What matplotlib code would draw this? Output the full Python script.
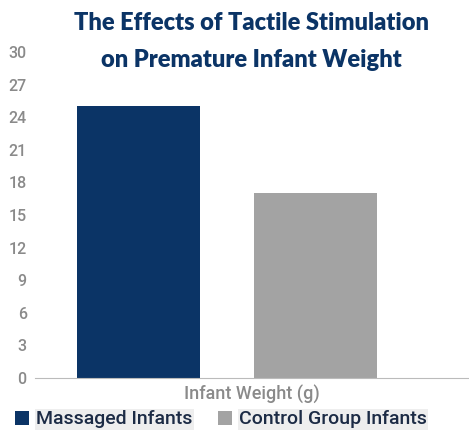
import matplotlib.pyplot as plt
import numpy as np

# Data
groups = ['Massaged Infants', 'Control Group Infants']
weights = [25, 17]
colors = ['#0b3466', '#a3a3a3']
yticks = list(range(0, 31, 3))

fig = plt.figure(figsize=(4.69, 4.33), dpi=100)
ax = fig.add_axes([35 / 469, 55 / 433, 1 - 35 / 469, (378 - 52) / 433])

x = np.arange(len(groups))
bars = ax.bar(x, weights, width=0.695, color=colors, label=groups)

ax.set_ylim(0, 30)
ax.set_xlim(-0.582, 1.87)
ax.set_yticks(yticks)
ax.set_xticks([])
for s in ['top', 'right', 'left']:
    ax.spines[s].set_visible(False)
ax.spines['bottom'].set_color('#bbbbbb')
ax.tick_params(axis='y', length=0, labelsize=11.5, labelcolor='#8a8a8a', pad=6)
for lbl in ax.get_yticklabels():
    lbl.set_fontfamily('Roboto')
    lbl.set_fontweight('medium')

ax.set_xlabel('Infant Weight (g)', fontsize=13, color='#8a8a8a',
              family='Roboto', fontweight='medium', labelpad=5)

fig.text(0.537, 0.972, 'The Effects of Tactile Stimulation\non Premature Infant Weight',
         ha='center', va='top', fontsize=17, fontweight='heavy', color='#0b3466',
         family=['Lato', 'DejaVu Sans'], linespacing=1.85)

leg = fig.legend(bars, groups, loc='lower left', bbox_to_anchor=(-0.006, -0.03),
                 ncol=2, frameon=False, handlelength=0.75,
                 handleheight=0.75, handletextpad=0.35, columnspacing=1.3,
                 prop={'family': 'Roboto', 'size': 14, 'weight': 'medium'})
for t in leg.get_texts():
    t.set_color('#1c2b45')
    t.set_bbox(dict(facecolor='#eeeeee', edgecolor='none', pad=1))

fig.savefig('out.png', dpi=100)
